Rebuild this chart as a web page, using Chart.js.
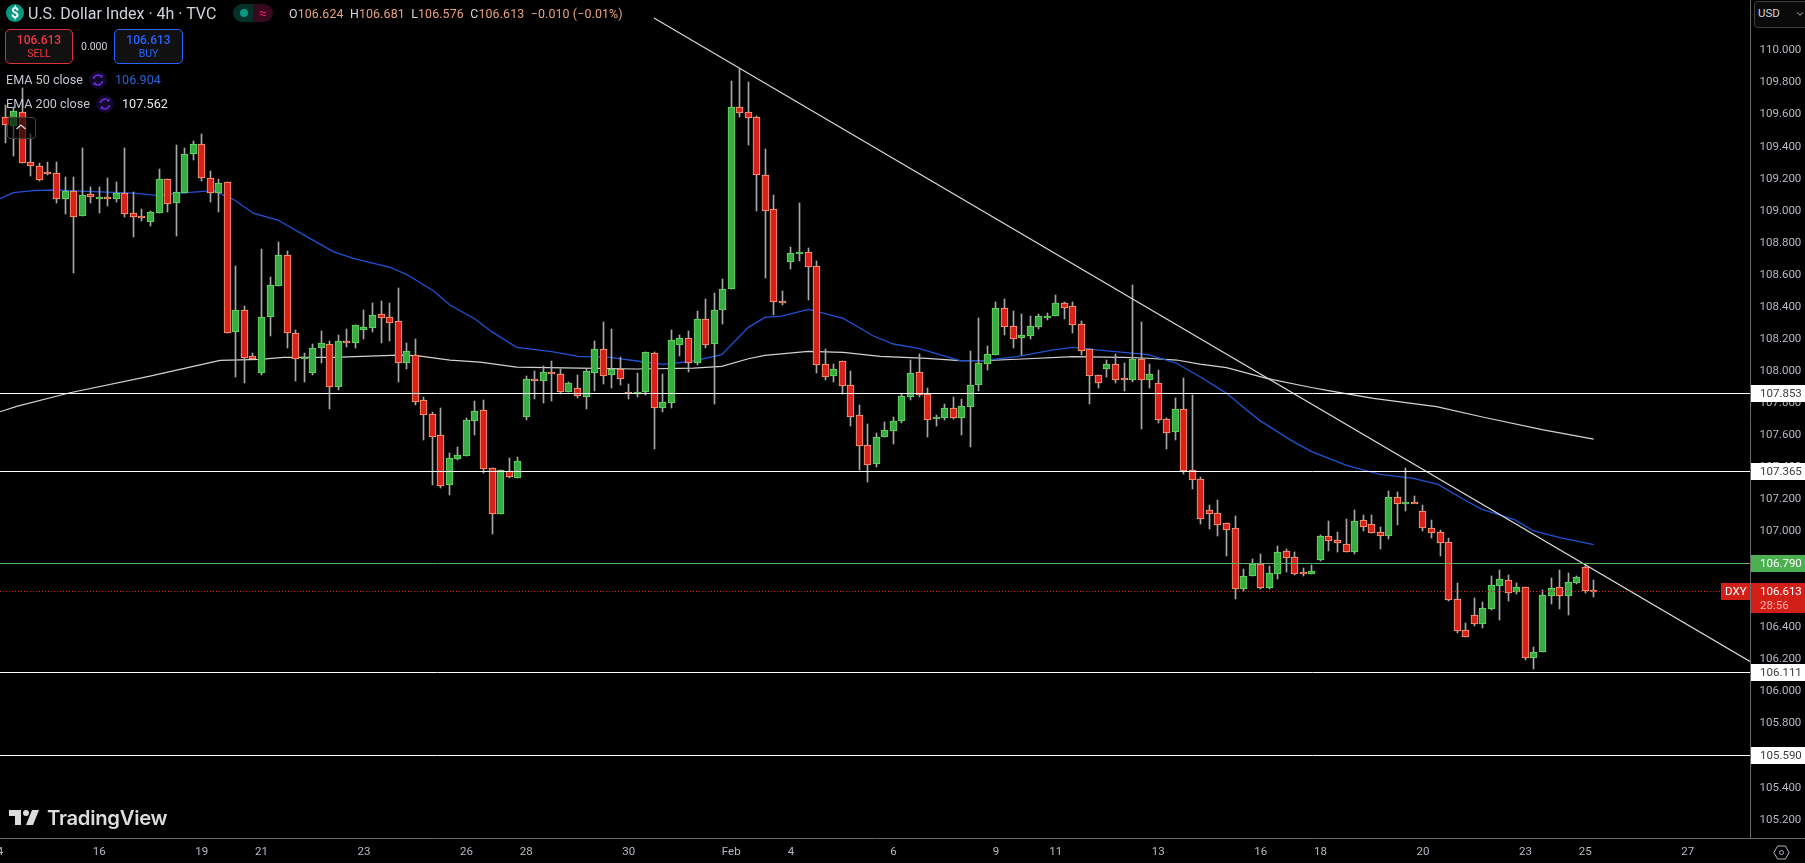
<!DOCTYPE html>
<html>
<head>
<meta charset="utf-8">
<title>U.S. Dollar Index 4h</title>
<script src="https://cdn.jsdelivr.net/npm/chart.js@4"></script>
<style>
html,body{margin:0;padding:0;background:#000;overflow:hidden;width:1805px;height:863px}
#c{position:absolute;left:0;top:0;width:1805px;height:863px}
.o{position:absolute;white-space:nowrap;font-family:Roboto,"Noto Sans",sans-serif;line-height:1;z-index:2}
.mid{transform:translateY(-50%)}
</style>
</head>
<body>
<canvas id="c" width="1805" height="863"></canvas>

<div class="o" style="left:6px;top:4px;width:18px;height:18px;border-radius:50%;background:#089981;color:#fff;font-weight:700;font-size:14px;line-height:18px;text-align:center">$</div>
<div class="o mid" style="left:28px;top:13.5px;font-size:16px;color:#d1d4dc">U.S. Dollar Index · 4h · TVC</div>
<div class="o" style="left:233px;top:4px;width:20px;height:18px;background:#06302a;border-radius:9px 0 0 9px"></div>
<div class="o" style="left:253px;top:4px;width:20px;height:18px;background:#360a1c;border-radius:0 9px 9px 0;color:#e91e63;font-size:14px;line-height:18px;text-align:center">≈</div>
<div class="o" style="left:239.5px;top:9px;width:8px;height:8px;background:#089981;border-radius:50%"></div>
<div class="o mid" id="ohlc" style="left:289px;top:13.5px;font-size:12.4px;color:#d1d4dc;letter-spacing:.12px"><span>O</span><span style="color:#e8a27c">106.624</span>&nbsp; <span>H</span><span style="color:#e8a27c">106.681</span>&nbsp; <span>L</span><span style="color:#e8a27c">106.576</span>&nbsp; <span>C</span><span style="color:#e8a27c">106.613 &nbsp;−0.010 (−0.01%)</span></div>

<div class="o" style="left:5px;top:29px;width:66px;height:33px;border:1px solid #d9303a;border-radius:5px;background:#111"></div>
<div class="o" style="left:5px;top:34px;width:68px;text-align:center;font-size:12px;font-weight:500;color:#f23645">106.613</div>
<div class="o" style="left:5px;top:49px;width:68px;text-align:center;font-size:10.5px;color:#f23645">SELL</div>
<div class="o mid" style="left:81px;top:46.5px;font-size:10.5px;color:#d1d4dc">0.000</div>
<div class="o" style="left:114px;top:29px;width:67px;height:33px;border:1px solid #2962ff;border-radius:5px;background:#111"></div>
<div class="o" style="left:114px;top:34px;width:69px;text-align:center;font-size:12px;font-weight:500;color:#2962ff">106.613</div>
<div class="o" style="left:114px;top:49px;width:69px;text-align:center;font-size:10.5px;color:#2962ff">BUY</div>

<div class="o mid" style="left:6px;top:79.5px;font-size:12.6px;color:#c4c7d0">EMA 50 close</div>
<svg class="o" style="left:89px;top:70.5px" width="18" height="18" viewBox="0 0 18 18"><circle cx="9" cy="9" r="9" fill="#12082a"/><path d="M4.5 8a4.6 4.6 0 0 1 8-2.4M13.5 10a4.6 4.6 0 0 1-8 2.4" fill="none" stroke="#6a2de0" stroke-width="1.6"/><path d="M13.6 3.4v3.2h-3.2zM4.4 14.6v-3.2h3.2z" fill="#6a2de0"/></svg>
<div class="o mid" style="left:115px;top:79.5px;font-size:12.6px;color:#2962d8">106.904</div>
<div class="o mid" style="left:6px;top:103.5px;font-size:12.6px;color:#c4c7d0">EMA 200 close</div>
<svg class="o" style="left:96px;top:94.5px" width="18" height="18" viewBox="0 0 18 18"><circle cx="9" cy="9" r="9" fill="#12082a"/><path d="M4.5 8a4.6 4.6 0 0 1 8-2.4M13.5 10a4.6 4.6 0 0 1-8 2.4" fill="none" stroke="#6a2de0" stroke-width="1.6"/><path d="M13.6 3.4v3.2h-3.2zM4.4 14.6v-3.2h3.2z" fill="#6a2de0"/></svg>
<div class="o mid" style="left:122px;top:103.5px;font-size:12.6px;color:#e6e6e6">107.562</div>
<div class="o" style="left:7px;top:117px;width:27px;height:20px;border:1px solid #3f3f3f;border-radius:3px;background:rgba(0,0,0,.62)"></div>
<svg class="o" style="left:14px;top:122px" width="14" height="10" viewBox="0 0 14 10"><path d="M2.5 7L7 3l4.5 4" fill="none" stroke="#d1d4dc" stroke-width="1.3"/></svg>

<div class="o" style="left:1754px;top:1px;width:60px;height:25px;border:1px solid #3c3c3c;border-radius:4px;background:#0a0a0a"></div>
<div class="o mid" style="left:1758px;top:13.5px;font-size:11.5px;color:#d1d4dc">USD</div>
<svg class="o" style="left:1796px;top:11px" width="8" height="6" viewBox="0 0 8 6"><path d="M1 1.5L4 4.2l3-2.7" fill="none" stroke="#b2b5be" stroke-width="1"/></svg>

<svg class="o" style="left:6px;top:809px" width="36" height="17" viewBox="2 5 30 17"><path fill="#dcdcdc" d="M14 6H2v6h6v9h6V6zm12 15h-7l6-15h7l-6 15zm-7-9a3 3 0 1 0 0-6 3 3 0 0 0 0 6z"/></svg>
<div class="o mid" style="left:47px;top:817.5px;font-family:Inter,Roboto,sans-serif;font-weight:600;font-size:20.3px;letter-spacing:-.3px;color:#dcdcdc">TradingView</div>

<svg class="o" style="left:1773px;top:845px" width="17" height="15" viewBox="0 0 17 15"><path d="M4.6 1h7.8l3.7 6.5-3.7 6.5H4.6L.9 7.5z" fill="none" stroke="#b2b5be"/><circle cx="8.5" cy="7.5" r="2" fill="none" stroke="#b2b5be"/></svg>

<script>
// ---- Candles ----
const opens = [
109.571,109.517,109.606,109.290,109.265,109.228,109.221,109.059,109.109,108.957,
109.090,109.070,109.072,109.063,109.097,108.972,108.953,108.920,108.976,109.184,
109.038,109.101,109.344,109.402,109.190,109.101,109.165,108.233,108.366,108.079,
107.977,108.326,108.520,108.709,108.222,108.060,107.977,108.129,108.154,107.889,
108.172,108.164,108.241,108.258,108.341,108.322,108.297,108.039,108.085,107.804,
107.717,107.586,107.278,107.440,107.459,107.677,107.742,107.380,107.097,107.365,
107.322,107.700,107.935,107.927,107.979,107.971,107.858,107.883,107.827,107.977,
108.122,107.964,107.998,107.854,107.848,107.858,108.097,107.758,107.790,108.151,
108.191,108.039,108.310,108.158,108.371,108.498,109.633,109.602,109.571,109.209,
108.997,108.423,108.670,108.722,108.728,108.641,108.029,107.958,108.047,107.898,
107.711,107.523,107.409,107.577,107.615,107.677,107.827,107.979,107.842,107.686,
107.696,107.754,107.696,107.765,107.902,108.033,108.090,108.379,108.266,108.194,
108.208,108.264,108.327,108.333,108.410,108.391,108.279,108.123,107.961,108.002,
108.029,107.942,107.934,108.061,107.934,107.911,107.686,107.609,107.749,107.368,
107.312,107.118,107.100,107.037,107.006,106.629,106.711,106.785,106.636,106.723,
106.862,106.825,106.731,106.723,106.810,106.956,106.931,106.910,106.860,107.056,
107.031,106.981,106.960,107.199,107.162,107.168,107.112,107.006,106.981,106.918,
106.563,106.369,106.463,106.411,106.504,106.648,106.681,106.611,106.638,106.199,
106.236,106.586,106.638,106.586,106.667,106.762,106.624];
const highs = [
109.648,109.637,109.752,109.465,109.284,109.290,109.290,109.198,109.198,109.377,
109.134,109.138,109.192,109.167,109.377,109.103,108.997,108.988,109.248,109.184,
109.398,109.377,109.423,109.465,109.236,109.186,109.165,108.642,108.393,108.097,
108.748,108.576,108.790,108.736,108.243,108.097,108.156,108.237,108.174,108.212,
108.247,108.272,108.368,108.411,108.424,108.411,108.505,108.160,108.187,107.825,
107.731,107.756,107.475,107.513,107.694,107.800,107.806,107.380,107.367,107.444,
107.450,107.956,107.985,108.018,108.050,108.000,107.919,107.962,107.998,108.174,
108.293,108.247,108.075,107.906,107.975,108.104,108.104,107.968,108.241,108.212,
108.237,108.359,108.436,108.474,108.562,109.798,109.872,109.791,109.581,109.373,
109.086,108.487,108.762,109.034,108.755,108.674,108.124,108.031,108.047,107.987,
107.775,107.656,107.600,107.669,107.700,107.844,108.056,108.093,107.881,107.713,
107.781,107.825,107.812,108.112,108.318,108.144,108.418,108.437,108.362,108.343,
108.331,108.343,108.350,108.462,108.418,108.418,108.300,108.123,107.961,108.056,
108.094,108.038,108.524,108.294,108.031,107.994,107.694,107.819,107.944,107.838,
107.326,107.152,107.183,107.037,107.083,106.752,106.815,106.846,106.771,106.896,
106.877,106.858,106.756,106.777,106.964,107.052,106.983,107.064,107.120,107.089,
107.089,107.014,107.239,107.233,107.382,107.208,107.151,107.058,106.995,106.945,
106.665,106.415,106.571,106.546,106.708,106.746,106.715,106.665,106.638,106.265,
106.619,106.696,106.746,106.727,106.708,106.777,106.681];
const lows = [
109.409,109.330,109.284,109.205,109.174,109.211,109.038,108.968,108.602,108.957,
109.038,108.976,109.018,109.043,108.951,108.826,108.924,108.893,108.976,108.982,
108.830,109.101,109.305,109.176,109.043,108.980,108.227,107.952,107.914,108.060,
107.962,108.206,108.520,108.131,107.925,107.919,107.962,108.039,107.750,107.869,
108.139,108.131,108.187,108.231,108.164,108.174,107.919,107.999,107.775,107.557,
107.276,107.257,107.213,107.432,107.459,107.588,107.351,106.970,107.097,107.322,
107.322,107.681,107.812,107.787,107.800,107.844,107.858,107.819,107.750,107.862,
107.906,107.881,107.900,107.812,107.825,107.837,107.500,107.731,107.756,108.081,
107.981,108.025,108.131,107.781,108.281,108.498,109.575,109.398,108.986,108.568,
108.337,108.400,108.627,108.674,108.431,107.977,107.931,107.919,107.844,107.644,
107.369,107.295,107.388,107.577,107.532,107.665,107.806,107.825,107.575,107.644,
107.681,107.690,107.588,107.513,107.865,107.994,108.090,108.212,108.131,108.088,
108.187,108.248,108.306,108.333,108.312,108.225,108.088,107.782,107.882,107.950,
107.913,107.863,107.919,107.626,107.882,107.663,107.501,107.557,107.347,107.251,
107.033,107.002,106.958,106.833,106.565,106.617,106.711,106.627,106.627,106.690,
106.734,106.715,106.709,106.723,106.802,106.865,106.858,106.860,106.846,106.989,
106.979,106.877,106.939,107.027,107.114,107.162,106.989,106.945,106.833,106.552,
106.353,106.330,106.396,106.384,106.496,106.434,106.552,106.596,106.184,106.128,
106.236,106.534,106.502,106.465,106.658,106.604,106.576];
const closes = [
109.521,109.610,109.284,109.269,109.182,109.223,109.059,109.109,108.951,109.084,
109.076,109.072,109.063,109.097,108.970,108.951,108.951,108.978,109.184,109.032,
109.103,109.340,109.402,109.194,109.101,109.159,108.227,108.366,108.070,108.064,
108.322,108.522,108.709,108.222,108.060,108.072,108.129,108.160,107.889,108.172,
108.160,108.272,108.260,108.335,108.320,108.289,108.039,108.110,107.796,107.715,
107.577,107.272,107.442,107.461,107.679,107.735,107.378,107.097,107.367,107.328,
107.423,107.935,107.933,107.979,107.971,107.858,107.910,107.833,107.985,108.122,
107.958,107.998,107.939,107.848,107.854,108.104,107.758,107.792,108.179,108.191,
108.039,108.310,108.151,108.366,108.498,109.633,109.596,109.569,109.209,108.988,
108.416,108.421,108.722,108.731,108.639,108.027,107.952,107.998,107.896,107.702,
107.521,107.403,107.573,107.617,107.673,107.829,107.973,107.839,107.683,107.698,
107.754,107.696,107.767,107.898,108.036,108.092,108.379,108.264,108.190,108.210,
108.266,108.329,108.329,108.410,108.383,108.273,108.115,107.959,107.915,108.029,
107.934,107.930,108.061,107.934,107.967,107.684,107.603,107.749,107.364,107.310,
107.062,107.098,107.029,106.998,106.629,106.706,106.785,106.636,106.725,106.856,
106.823,106.723,106.729,106.738,106.956,106.929,106.917,106.860,107.049,107.016,
106.979,106.960,107.199,107.160,107.168,107.162,107.010,106.979,106.916,106.561,
106.367,106.330,106.411,106.507,106.650,106.688,106.604,106.638,106.199,106.232,
106.588,106.631,106.586,106.669,106.700,106.617,106.613];

// ---- EMA lines: bar position and price, sampled by eye ----
const ema50Bars = [-0.62,0.94,3.28,5.63,10.31,14.99,17.73,21.24,24.36,26.7,29.04,31.97,35.29,38.41,40.75,45.05,46.97,50.12,52.07,55,56.96,59.88,63.98,67.1,70.81,73.93,77.06,80.57,83.89,87.01,88.96,90.91,94.04,98.13,101.65,103.99,106.92,110.62,111.79,114.52,118.43,122.72,125.06,127.79,130.92,133.84,137.16,139.89,143.02,144.97,146.92,150.82,152.97,157.06,160.97,164.87,167.8,170.73,172.87,176.78,178.92,182.04,186];
const ema50Prices = [109.063,109.101,109.113,109.117,109.107,109.097,109.084,109.101,109.113,109.059,108.972,108.928,108.826,108.733,108.691,108.635,108.591,108.488,108.399,108.312,108.233,108.135,108.108,108.079,108.072,108.05,108.029,108.05,108.089,108.26,108.322,108.33,108.372,108.316,108.206,108.156,108.129,108.071,108.052,108.052,108.077,108.119,108.135,108.119,108.104,108.09,108.036,107.952,107.848,107.761,107.678,107.547,107.484,107.399,107.343,107.318,107.28,107.187,107.126,107.058,106.991,106.948,106.904];
const ema200Bars = [-0.62,1.33,7.58,16.94,25.14,29.82,32.56,38.41,46.02,48.17,52.07,55.59,59.88,67.3,73.93,80.57,83.89,87.01,88.96,94.04,98.13,102.43,107.9,111.79,114.52,118.43,125.06,130.92,133.84,137.16,139.89,143,147.7,152.78,155.1,160.2,167.6,173.1,180.1,186];
const ema200Prices = [107.733,107.767,107.852,107.956,108.054,108.06,108.072,108.072,108.087,108.083,108.056,108.043,108.012,108.006,108,108.006,108.016,108.064,108.085,108.11,108.104,108.079,108.066,108.052,108.052,108.061,108.077,108.073,108.067,108.056,108.031,108.009,107.942,107.886,107.863,107.817,107.765,107.699,107.62,107.562];

// ---- Drawings ----
const whiteLevels = [107.853,107.365,106.111,105.590];
const greenLevel = 106.790;
const lastPrice = 106.613;
const trendBars = [75.96,204.3];
const trendPrices = [110.190,106.175];

// ---- Axes ----
const priceTicks = [105.2,105.4,105.6,105.8,106,106.2,106.4,106.6,106.8,107,107.2,107.4,107.6,107.8,108,108.2,108.4,108.6,108.8,109,109.2,109.4,109.6,109.8,110];
const dateTickBars = [-1,11,23,30,42,54,61,73,85,92,104,116,123,135,147,154,166,178,185,197];
const dateTickLabels = ['14','16','19','21','23','26','28','30','Feb','4','6','9','11','13','16','18','20','23','25','27'];
const barMin = -0.62, barMax = 204.3, priceMin = 105.0733, priceMax = 110.3027;

const UI = 'Roboto,"Noto Sans",sans-serif';
const bars = opens.map((_, i) => i);
const up = opens.map((o, i) => closes[i] >= o);
const hLine = (p, color, width, dash) => ({
  type:'line', order:0, snap:true, data:[{x:barMin,y:p},{x:barMax,y:p}], borderColor:color, borderWidth:width,
  borderDash:dash||[], pointRadius:0
});

const crisp = {
  id:'crisp',
  afterDatasetsUpdate(chart){
    chart.data.datasets.forEach((ds, i) => {
      if (ds.snap) {
        chart.getDatasetMeta(i).data.forEach(pt => { pt.y = Math.round(pt.y) + 0.5; });
        return;
      }
      if (ds.type !== 'bar') return;
      const min = ds.barThickness > 1 ? 2 : 1;
      chart.getDatasetMeta(i).data.forEach(el => {
        el.x = Math.floor(el.x) + 0.5;
        let a = Math.round(Math.min(el.y, el.base)), b = Math.round(Math.max(el.y, el.base));
        if (b - a < min) b = a + min;
        el.y = a; el.base = b;
      });
    });
  }
};

const tags = {
  id:'tags',
  afterDraw(chart){
    const c = chart.ctx, y = chart.scales.y, L = chart.chartArea.right + 1, W = 1805 - L;
    c.save();
    c.fillStyle = '#6a6a6a';
    c.fillRect(L, chart.chartArea.bottom, W, 1);
    const box = (p, bg, fg) => {
      const py = y.getPixelForValue(p);
      c.fillStyle = bg; c.fillRect(L, Math.round(py) - 8, W, 17);
      c.fillStyle = fg; c.font = '11.5px ' + UI; c.textBaseline = 'middle'; c.textAlign = 'left';
      c.fillText(p.toFixed(3), 1760, Math.round(py) + 1.5);
    };
    whiteLevels.forEach(p => box(p, '#ffffff', '#3c3c3c'));
    box(greenLevel, '#4caf50', '#ffffff');
    const py = Math.round(y.getPixelForValue(lastPrice));
    c.fillStyle = '#d21f17'; c.fillRect(L, py - 8, W, 30); c.fillRect(1721, py - 8, 29, 17);
    c.fillStyle = '#fff'; c.font = '11.5px ' + UI; c.textBaseline = 'middle'; c.textAlign = 'left';
    c.fillText(lastPrice.toFixed(3), 1760, py + 1.5);
    c.fillText('DXY', 1725, py + 1.5);
    c.fillStyle = '#f7b3ae'; c.fillText('28:56', 1760, py + 15.5);
    c.restore();
  }
};

new Chart(document.getElementById('c'), {
  data:{ datasets:[
    ...whiteLevels.map(p => hLine(p, '#ffffff', 1)),
    hLine(greenLevel, '#5cae5f', 1),
    hLine(lastPrice, '#d9261c', 1, [1,2]),
    { type:'line', order:0, data:trendBars.map((x,i)=>({x,y:trendPrices[i]})), borderColor:'#dcdcdc', borderWidth:1.1, pointRadius:0 },
    { type:'bar', order:1, data:bars.map(i=>({x:i,y:[opens[i],closes[i]]})), barThickness:7, grouped:false, borderSkipped:false, borderWidth:1,
      backgroundColor:up.map(u=>u?'#38ab45':'#d6221a'), borderColor:up.map(u=>u?'#6bd95e':'#fba67f') },
    { type:'bar', order:2, data:bars.map(i=>({x:i,y:[lows[i],highs[i]]})), barThickness:1, grouped:false, borderWidth:0, backgroundColor:'#a6a6a6' },
    { type:'line', order:3, data:ema50Bars.map((x,i)=>({x,y:ema50Prices[i]})), borderColor:'#1f52d6', borderWidth:1.3, pointRadius:0 },
    { type:'line', order:3, data:ema200Bars.map((x,i)=>({x,y:ema200Prices[i]})), borderColor:'#d2d2d2', borderWidth:1.2, pointRadius:0 }
  ]},
  options:{
    responsive:false, animation:false, devicePixelRatio:1,
    layout:{padding:0},
    plugins:{legend:{display:false},tooltip:{enabled:false}},
    scales:{
      x:{ type:'linear', offset:false, min:barMin, max:barMax,
        grid:{display:false,drawTicks:false,offset:false},
        border:{color:'#6a6a6a'},
        afterBuildTicks:s=>{s.ticks=dateTickBars.map(value=>({value}));},
        afterFit:s=>{s.height=25;s.paddingLeft=0;s.paddingRight=0;},
        ticks:{ autoSkip:false, maxRotation:0, padding:7, color:'#b6b9c2', font:{family:UI,size:11.5},
          callback:(v)=>dateTickLabels[dateTickBars.indexOf(v)] }
      },
      y:{ position:'right', min:priceMin, max:priceMax,
        grid:{display:false,drawTicks:false},
        border:{color:'#6a6a6a'},
        afterBuildTicks:s=>{s.ticks=priceTicks.map(value=>({value}));},
        afterFit:s=>{s.width=55;s.paddingTop=0;s.paddingBottom=0;},
        ticks:{ autoSkip:false, padding:9.5, align:'center', crossAlign:'near', labelOffset:2, color:'#b6b9c2', font:{family:UI,size:11.5},
          callback:v=>Number(v).toFixed(3) }
      }
    }
  },
  plugins:[crisp,tags]
});
</script>
</body>
</html>
